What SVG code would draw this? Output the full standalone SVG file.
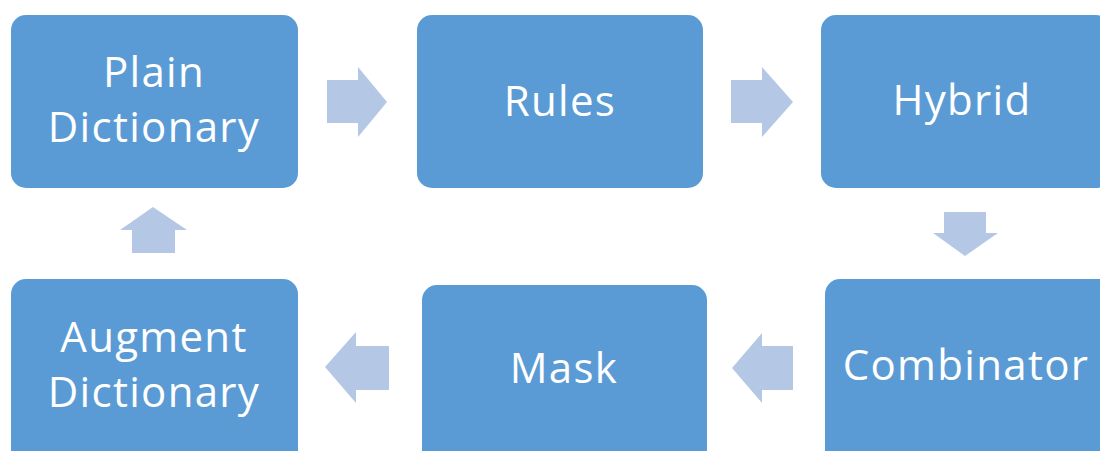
<svg xmlns="http://www.w3.org/2000/svg" width="1100" height="451" viewBox="0 0 1100 451">
<style>
.box{fill:#5B9BD5;}
.lbl{fill:#FFFFFF;font-family:"Open Sans","Noto Sans","Liberation Sans",sans-serif;font-size:42px;letter-spacing:1.3px;text-anchor:middle;font-variant-ligatures:none;}
.arr{fill:#B4C8E6;}
</style>
<rect width="1100" height="451" fill="#FFFFFF"/>
<g id="connectors">
<polygon class="arr" points="327,80 358,80 358,67 387,102 358,137 358,123 327,123"/>
<polygon class="arr" points="731,80 762,80 762,67 793,102 762,137 762,123 731,123"/>
<polygon class="arr" points="944,212 986,212 986,233 998,233 965,256 933,233 944,233"/>
<polygon class="arr" points="793,346 762,346 762,333 732,368 762,403 762,390 793,390"/>
<polygon class="arr" points="389,346 356,346 356,332 325,367 356,403 356,390 389,390"/>
<polygon class="arr" points="132,253 132,230 120,230 153,207 187,230 175,230 175,253"/>
</g>
<g id="plain-dictionary">
<rect class="box" x="11" y="15" width="287" height="173" rx="15"/>
<text class="lbl" x="154" y="87">Plain</text>
<text class="lbl" x="154" y="142">Dictionary</text>
</g>
<g id="rules">
<rect class="box" x="417" y="15" width="286" height="173" rx="15"/>
<text class="lbl" x="560" y="116">Rules</text>
</g>
<g id="hybrid">
<rect class="box" x="821" y="15" width="290" height="173" rx="15"/>
<text class="lbl" x="962" y="115">Hybrid</text>
</g>
<g id="augment-dictionary">
<rect class="box" x="11" y="279" width="287" height="190" rx="15"/>
<text class="lbl" x="154" y="352">Augment</text>
<text class="lbl" x="154" y="407">Dictionary</text>
</g>
<g id="mask">
<rect class="box" x="422" y="285" width="285" height="190" rx="15"/>
<text class="lbl" x="564" y="383">Mask</text>
</g>
<g id="combinator">
<rect class="box" x="825" y="279" width="290" height="190" rx="15"/>
<text class="lbl" x="966" y="380">Combinator</text>
</g>
</svg>
